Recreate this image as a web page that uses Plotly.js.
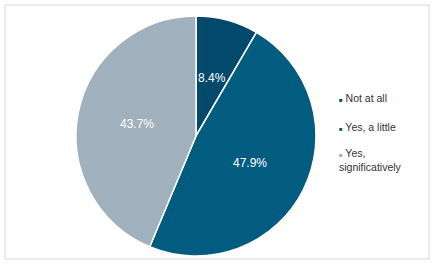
<!DOCTYPE html>
<html>
<head>
<meta charset="utf-8">
<script src="https://cdn.plot.ly/plotly-3.0.1.min.js"></script>
<style>
  html, body { margin: 0; padding: 0; background: #ffffff; }
  #chart { width: 432px; height: 264px; }
</style>
</head>
<body>
<div id="chart"></div>
<script>
// Chart data
const labels = ['Not at all', 'Yes, a little', 'Yes, significatively'];
const legendText = ['Not at all', 'Yes, a little', 'Yes,<br>significatively'];
const shares = [8.4, 47.9, 43.7];
const sliceColors = ['#03496b', '#025c80', '#a0b0bc'];

const W = 432, H = 264;
const FONT = 'Liberation Sans, Arial, sans-serif';

// pie placement (pixels)
const cx = 196, cy = 136, R = 120;

const trace = {
    type: 'pie',
    labels: labels,
    values: shares,
    sort: false,
    direction: 'clockwise',
    rotation: 0,
    marker: { colors: sliceColors, line: { color: '#ffffff', width: 1.5 } },
    textinfo: 'none',
    hoverinfo: 'label+value',
    domain: { x: [(cx - R) / W, (cx + R) / W], y: [(H - cy - R) / H, (H - cy + R) / H] },
    showlegend: false
};

// Data labels, Excel style: half radius along the middle of each slice
const total = shares.reduce((a, b) => a + b, 0);
let cum = 0;
const dataLabels = shares.map((v, i) => {
    const mid = (cum + v / 2) / total * 2 * Math.PI;
    cum += v;
    const px = cx + 0.5 * R * Math.sin(mid);
    const py = cy - 0.5 * R * Math.cos(mid);
    return {
        xref: 'paper', yref: 'paper',
        x: px / W, y: 1 - py / H,
        xanchor: 'center', yanchor: 'middle',
        showarrow: false,
        text: v.toFixed(1) + '%',
        font: { family: FONT, size: 12, color: '#ffffff' }
    };
});

// Legend drawn as annotations (small square markers, wide spacing)
const legendY = [98, 127, 160];
const legendItems = labels.map((lab, i) => ({
    xref: 'paper', yref: 'paper',
    x: 337 / W, y: 1 - legendY[i] / H,
    xanchor: 'left', yanchor: 'middle',
    align: 'left',
    showarrow: false,
    text: `<span style="color:${sliceColors[i]};font-size:6px">■</span> ${legendText[i]}`,
    font: { family: FONT, size: 10.5, color: '#333333' }
}));

const layout = {
    width: W, height: H,
    margin: { t: 0, r: 0, b: 0, l: 0 },
    paper_bgcolor: '#ffffff',
    annotations: dataLabels.concat(legendItems),
    shapes: [{
        type: 'rect', xref: 'paper', yref: 'paper',
        x0: 5 / W, x1: 429 / W, y0: 5 / H, y1: 1 - 5 / H,
        line: { color: '#d9d9d9', width: 1 }
    }]
};

Plotly.newPlot('chart', [trace], layout, { displayModeBar: false, staticPlot: true });
</script>
</body>
</html>
